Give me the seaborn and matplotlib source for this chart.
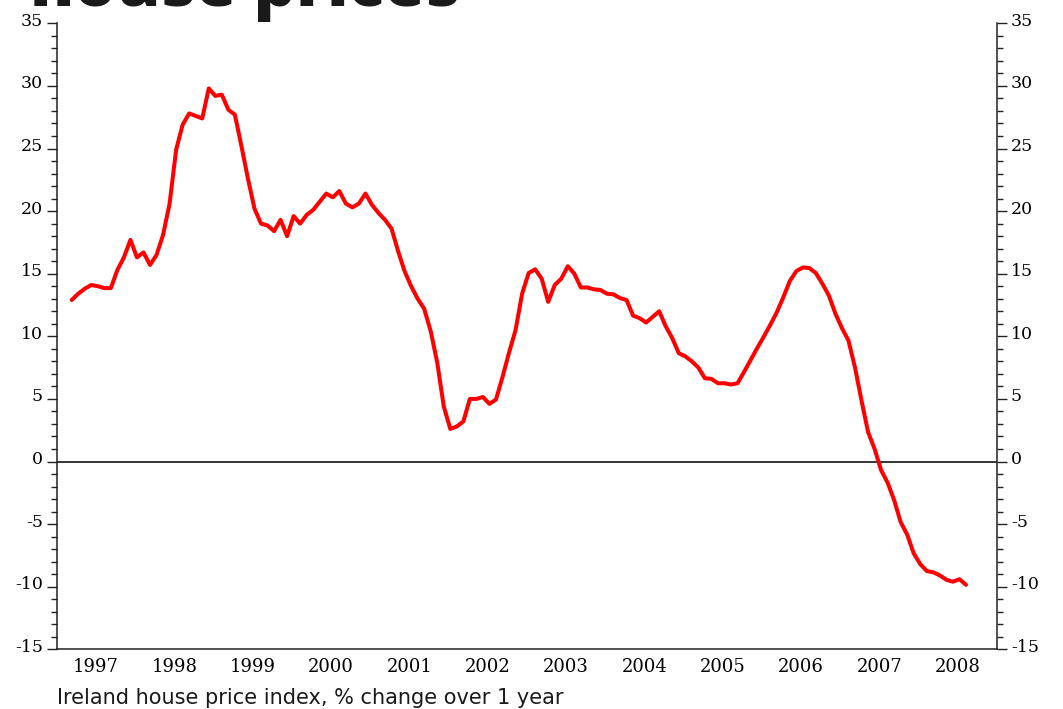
import numpy as np
import pandas as pd
import matplotlib.pyplot as plt
import matplotlib.transforms as mtransforms
from matplotlib.ticker import MultipleLocator, FixedLocator, NullFormatter
import seaborn as sns

# Ireland house price index, % change over 1 year, monthly from Mar 1997 to Aug 2008
first_month = 1997 + 2.25 / 12
pct_change = [
    12.9, 13.4, 13.8, 14.1, 14.0, 13.85, 13.85, 15.3, 16.3, 17.7,                   # 1997
    16.3, 16.7, 15.7, 16.5, 18.1, 20.6, 24.9, 26.9, 27.8, 27.6, 27.4, 29.8,         # 1998
    29.2, 29.3, 28.1, 27.7, 25.2, 22.6, 20.2, 19.0, 18.85, 18.4, 19.3, 18.0,        # 1999
    19.6, 19.0, 19.7, 20.1, 20.75, 21.4, 21.1, 21.6, 20.6, 20.3, 20.6, 21.4,        # 2000
    20.5, 19.85, 19.3, 18.6, 16.8, 15.2, 14.0, 13.0, 12.2, 10.4, 7.9, 4.4,          # 2001
    2.6, 2.8, 3.2, 5.0, 5.0, 5.15, 4.6, 4.95, 6.75, 8.7, 10.5, 13.4,                # 2002
    15.05, 15.35, 14.6, 12.75, 14.1, 14.6, 15.6, 15.0, 13.9, 13.9, 13.75, 13.7,     # 2003
    13.4, 13.35, 13.05, 12.9, 11.65, 11.45, 11.1, 11.55, 12.0, 10.8, 9.85, 8.65,    # 2004
    8.4, 8.0, 7.5, 6.65, 6.6, 6.25, 6.25, 6.15, 6.25, 7.15, 8.1, 9.05,              # 2005
    9.95, 10.9, 11.9, 13.1, 14.4, 15.2, 15.5, 15.45, 15.05, 14.2, 13.25, 11.8,      # 2006
    10.65, 9.65, 7.5, 4.85, 2.35, 1.0, -0.7, -1.7, -3.1, -4.85, -5.85, -7.35,       # 2007
    -8.2, -8.75, -8.85, -9.1, -9.45, -9.6, -9.4, -9.85,                             # 2008
]
years = list(range(1997, 2009))

sns.set_style("white")
plt.rcParams["axes.unicode_minus"] = False

df = pd.DataFrame({
    "date": first_month + np.arange(len(pct_change)) / 12,
    "change": pct_change,
})

fig = plt.figure(figsize=(10.63, 7.09), dpi=100)
ax = fig.add_axes([57 / 1063, 59.7 / 709, 940 / 1063, 626 / 709])

sns.lineplot(data=df, x="date", y="change", color="#ff0000", linewidth=2.9, ax=ax)
ax.axhline(0, color="black", linewidth=1.1, zorder=1)

ax.set_xlim(years[0], years[-1] + 1)
ax.set_ylim(-15, 35)
ax.set_xlabel("")
ax.set_ylabel("")

# years: ticks at the year boundaries, labels in the middle of each year
ax.xaxis.set_major_locator(FixedLocator(years + [years[-1] + 1]))
ax.xaxis.set_major_formatter(NullFormatter())
ax.xaxis.set_minor_locator(FixedLocator([y + 0.5 for y in years]))
ax.xaxis.set_minor_formatter(plt.FixedFormatter([str(y) for y in years]))

ax.yaxis.set_major_locator(MultipleLocator(5))
ax.yaxis.set_minor_locator(MultipleLocator(1))

for side in ["left", "right", "bottom"]:
    ax.spines[side].set_color("#222222")
    ax.spines[side].set_linewidth(1.1)
ax.spines["top"].set_visible(False)

ax.tick_params(axis="x", which="major", direction="out", length=6, width=1, color="#222222")
ax.tick_params(axis="x", which="minor", length=0, pad=6, labelsize=13, labelcolor="black")
ax.tick_params(axis="y", which="major", direction="out", length=7, width=1,
               color="#222222", left=True, right=True, labelleft=True, labelright=True,
               labelsize=12.5, labelcolor="black", pad=3)
ax.tick_params(axis="y", which="minor", direction="out", length=4, width=1,
               color="#222222", left=True, right=True)

# serif tick labels, lifted slightly above their ticks
lift = mtransforms.ScaledTranslation(0, 4 / 100, fig.dpi_scale_trans)
for lab in ax.get_yticklabels(which="both"):
    lab.set_fontfamily("DejaVu Serif")
    lab.set_transform(lab.get_transform() + lift)
for lab in ax.get_xticklabels(which="both"):
    lab.set_fontfamily("DejaVu Serif")

fig.text(30 / 1063, 1 - 6 / 709, "house prices", fontsize=47.5, fontweight="heavy",
         family="Open Sans", color="#1a1a1a", va="baseline")
fig.text(57 / 1063, 5 / 709, "Ireland house price index, % change over 1 year",
         fontsize=15, family="DejaVu Sans", color="#1a1a1a", va="baseline")

fig.savefig("out.png", dpi=100)
